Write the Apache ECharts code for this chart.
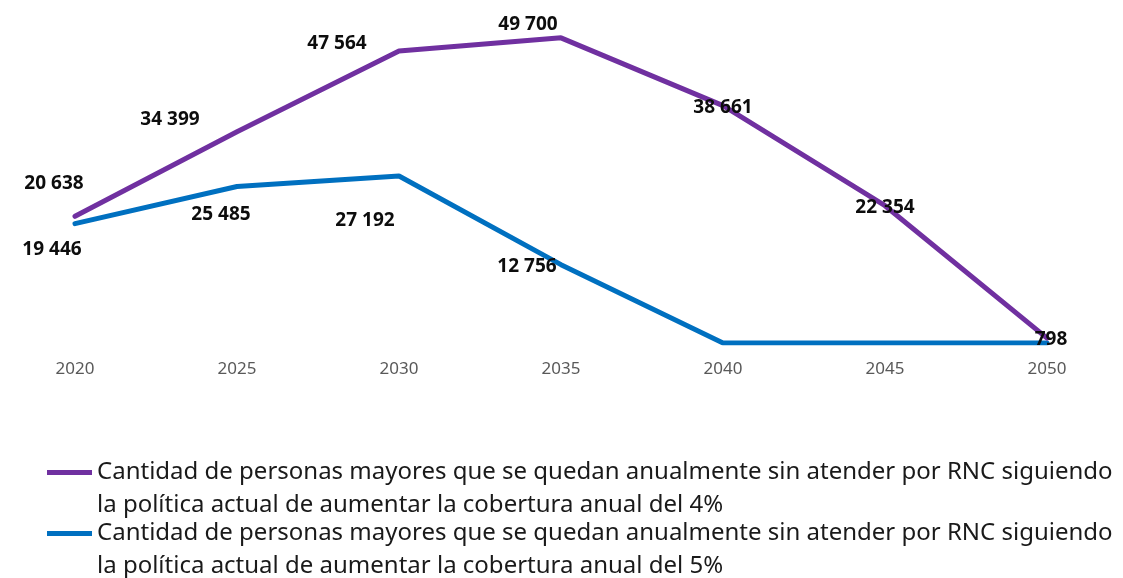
<!DOCTYPE html>
<html>
<head>
<meta charset="utf-8">
<script src="https://cdn.jsdelivr.net/npm/echarts@6/dist/echarts.min.js"></script>
<style>
  html, body { margin: 0; padding: 0; background: #fff; }
  #chart { width: 1123px; height: 578px; }
</style>
</head>
<body>
<div id="chart"></div>
<script>
const years = ['2020', '2025', '2030', '2035', '2040', '2045', '2050']
const nameA = 'Cantidad de personas mayores que se quedan anualmente sin atender por RNC siguiendo\nla política actual de aumentar la cobertura anual del 4%'
const nameB = 'Cantidad de personas mayores que se quedan anualmente sin atender por RNC siguiendo\nla política actual de aumentar la cobertura anual del 5%'
const valuesA = [20638, 34399, 47564, 49700, 38661, 22354, 798]
const valuesB = [19446, 25485, 27192, 12756, 0, 0, 0]
// label offsets (px) per point
const offsetsA = [[-21, -33], [-67, -12], [-62, -7], [-33, -13], [0, 2], [0, 2], [4, 1]]
const offsetsB = [[-23, 26], [-16, 28], [-34, 45], [-34, 2], null, null, null]

const fmt = v => String(v).replace(/\B(?=(\d{3})+(?!\d))/g, ' ')

function buildData(values, offsets) {
  return values.map((v, i) => ({
    value: v,
    label: offsets[i]
      ? { show: true, offset: offsets[i] }
      : { show: false }
  }))
}

// legend icon: short bar at top of a tall box so it lines up with first text line
const legendIcon = 'path://M0,14 L45,14 L45,19 L0,19 Z M0,0 L0.05,0 L0.05,0.05 Z M0,66 L0.05,66 L0.05,65.95 Z'

function legendFor(name, top) {
  return {
    orient: 'vertical',
    left: 47,
    top: top,
    padding: 0,
    itemWidth: 45,
    itemHeight: 66,
    icon: legendIcon,
    textStyle: { fontSize: 24, lineHeight: 33, color: '#1a1a1a', fontFamily: 'Noto Sans' },
    data: [name]
  }
}

const chart = echarts.init(document.getElementById('chart'))
chart.setOption({
  animation: false,
  textStyle: { fontFamily: 'Noto Sans' },
  grid: { left: 75, right: 76, top: 36, bottom: 235 },
  legend: [legendFor(nameA, 456), legendFor(nameB, 517)],
  xAxis: {
    type: 'category',
    data: years,
    boundaryGap: false,
    axisLine: { show: false },
    axisTick: { show: false },
    axisLabel: { color: '#595959', fontSize: 17, margin: 18 }
  },
  yAxis: {
    type: 'value',
    min: 0,
    max: 50000,
    show: false,
    splitLine: { show: false }
  },
  series: [
    {
      name: nameA,
      type: 'line',
      data: buildData(valuesA, offsetsA),
      color: '#7030A0',
      lineStyle: { width: 5, color: '#7030A0', cap: 'round' },
      symbol: 'circle',
      symbolSize: 1,
      label: {
        position: 'inside',
        color: '#0d0d0d',
        fontWeight: 'bold',
        fontSize: 19,
        formatter: p => fmt(p.value)
      },
      z: 3
    },
    {
      name: nameB,
      type: 'line',
      data: buildData(valuesB, offsetsB),
      color: '#0070C0',
      lineStyle: { width: 5, color: '#0070C0', cap: 'round' },
      symbol: 'circle',
      symbolSize: 1,
      label: {
        position: 'inside',
        color: '#0d0d0d',
        fontWeight: 'bold',
        fontSize: 19,
        formatter: p => fmt(p.value)
      },
      z: 2
    }
  ]
})
</script>
</body>
</html>
